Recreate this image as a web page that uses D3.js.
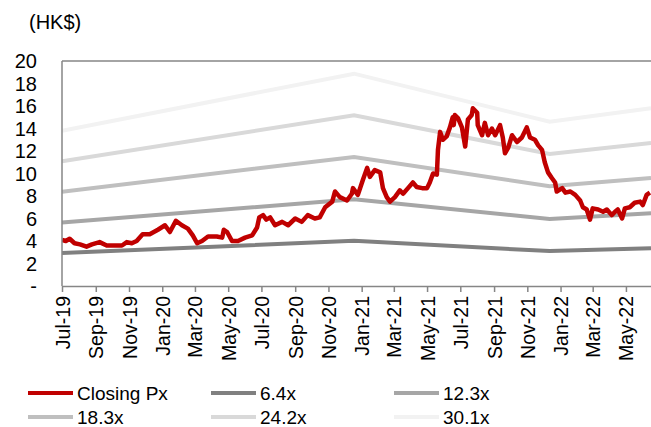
<!DOCTYPE html>
<html>
<head>
<meta charset="utf-8">
<script src="https://cdn.jsdelivr.net/npm/d3@7"></script>
<style>
  body { margin: 0; background: #fff; }
  svg { display: block; font-family: "Liberation Sans", Arial, sans-serif; }
</style>
</head>
<body>
<svg id="chart" width="651" height="427"></svg>
<script>
// Données

const priceDates = [
  "2019-07-01", "2019-07-08", "2019-07-15", "2019-07-24", "2019-08-03", "2019-08-15", "2019-08-25",
  "2019-09-08", "2019-09-21", "2019-10-02", "2019-10-19", "2019-10-28", "2019-11-06", "2019-11-15",
  "2019-11-26", "2019-12-09", "2019-12-24", "2020-01-06", "2020-01-15", "2020-01-26", "2020-02-06",
  "2020-02-17", "2020-02-26", "2020-03-05", "2020-03-14", "2020-03-25", "2020-04-10", "2020-04-20",
  "2020-04-23", "2020-04-29", "2020-05-08", "2020-05-19", "2020-06-01", "2020-06-14", "2020-06-23",
  "2020-06-27", "2020-07-04", "2020-07-10", "2020-07-17", "2020-07-26", "2020-08-08", "2020-08-19",
  "2020-09-01", "2020-09-13", "2020-09-24", "2020-10-07", "2020-10-16", "2020-10-26", "2020-11-08",
  "2020-11-13", "2020-11-22", "2020-12-05", "2020-12-14", "2020-12-16", "2020-12-25", "2021-01-03",
  "2021-01-11", "2021-01-16", "2021-01-25", "2021-02-04", "2021-02-09", "2021-02-16", "2021-02-22",
  "2021-03-03", "2021-03-12", "2021-03-18", "2021-03-27", "2021-04-05", "2021-04-12", "2021-04-22",
  "2021-05-01", "2021-05-06", "2021-05-12", "2021-05-19", "2021-05-21", "2021-05-25", "2021-05-30",
  "2021-06-06", "2021-06-12", "2021-06-17", "2021-06-19", "2021-06-21", "2021-06-27", "2021-07-04",
  "2021-07-10", "2021-07-15", "2021-07-22", "2021-07-24", "2021-08-01", "2021-08-02", "2021-08-10",
  "2021-08-15", "2021-08-21", "2021-08-28", "2021-09-03", "2021-09-12", "2021-09-17", "2021-09-21",
  "2021-09-27", "2021-10-04", "2021-10-13", "2021-10-22", "2021-10-31", "2021-11-06", "2021-11-15",
  "2021-11-21", "2021-11-28", "2021-12-03", "2021-12-09", "2021-12-16", "2021-12-22", "2021-12-25",
  "2022-01-04", "2022-01-10", "2022-01-19", "2022-01-28", "2022-02-06", "2022-02-11", "2022-02-18",
  "2022-02-24", "2022-03-01", "2022-03-11", "2022-03-20", "2022-03-27", "2022-04-05", "2022-04-11",
  "2022-04-16", "2022-04-24", "2022-04-29", "2022-05-08", "2022-05-17", "2022-05-27", "2022-06-01",
  "2022-06-08", "2022-06-14"
];
const priceClose = [
  4.1, 4.0, 4.2, 3.8, 3.7, 3.5, 3.7,
  3.9, 3.6, 3.6, 3.6, 3.9, 3.8, 4.0,
  4.6, 4.6, 5.0, 5.4, 4.8, 5.8, 5.4,
  5.1, 4.5, 3.8, 4.0, 4.4, 4.4, 4.3,
  5.0, 4.8, 4.0, 4.0, 4.3, 4.5, 5.2,
  6.1, 6.3, 5.9, 6.1, 5.4, 5.7, 5.4,
  6.0, 5.7, 6.3, 6.0, 6.1, 7.0, 7.5,
  8.4, 7.9, 7.6, 8.2, 8.7, 8.1, 9.4,
  10.5, 9.7, 10.3, 10.1, 8.7, 7.9, 7.5,
  7.9, 8.5, 8.2, 8.7, 9.2, 8.8, 8.7,
  8.7, 9.2, 10.0, 9.9, 12.1, 13.7, 13.0,
  13.3, 14.1, 15.0, 14.3, 15.2, 14.9, 14.1,
  12.4, 14.8, 15.2, 15.8, 15.4, 14.3, 13.4,
  14.5, 13.4, 14.0, 13.4, 14.3, 13.2, 11.8,
  12.3, 13.4, 12.8, 13.2, 14.1, 13.2, 13.0,
  12.5, 12.1, 11.0, 10.1, 9.6, 9.2, 8.4,
  8.7, 8.3, 8.4, 8.1, 7.6, 7.0, 6.8,
  5.9, 6.9, 6.8, 6.6, 6.8, 6.3, 6.6,
  6.8, 6.0, 6.9, 7.0, 7.4, 7.5, 7.2,
  8.1, 8.3
];

// BPA (HK$) aux points de rupture des bandes PE
const epsDates = ["2019-07-01", "2020-12-18", "2021-12-12", "2022-06-16"];
const epsValues = [0.458, 0.627, 0.485, 0.525];

const peMultiples = [6.4, 12.3, 18.3, 24.2, 30.1];
const bandColors = ["#808080", "#a6a6a6", "#bfbfbf", "#d9d9d9", "#f2f2f2"];

const yTicks = [0, 2, 4, 6, 8, 10, 12, 14, 16, 18, 20];

// Mise en page

const svg = d3.select("#chart");
const plotLeft = 62, plotRight = 651, plotTop = 61, plotBottom = 286;
const parse = d3.timeParse("%Y-%m-%d");

const x = d3.scaleTime()
  .domain([parse("2019-07-01"), parse("2022-06-16")])
  .range([plotLeft, plotRight]);
const y = d3.scaleLinear().domain([0, 20]).range([plotBottom, plotTop]);

svg.append("defs").append("clipPath").attr("id", "plot")
  .append("rect").attr("x", plotLeft).attr("y", plotTop - 10)
  .attr("width", plotRight - plotLeft).attr("height", plotBottom - plotTop + 10);

// Bandes PE
const bands = peMultiples.map((m, i) => ({
  name: m + "x",
  color: bandColors[i],
  values: epsDates.map((d, j) => ({ date: parse(d), v: epsValues[j] * m }))
}));

const line = d3.line().x(d => x(d.date)).y(d => y(d.v));

const g = svg.append("g").attr("clip-path", "url(#plot)");

g.selectAll("path.band")
  .data(bands)
  .enter()
  .append("path")
  .attr("class", "band")
  .attr("d", d => line(d.values))
  .attr("fill", "none")
  .attr("stroke", d => d.color)
  .attr("stroke-width", 4);

const price = priceDates.map((d, i) => ({ date: parse(d), v: priceClose[i] }));
g.append("path")
  .attr("d", line(price))
  .attr("fill", "none")
  .attr("stroke", "#c00000")
  .attr("stroke-width", 4.5)
  .attr("stroke-linejoin", "round");

// Axes
const axisColor = "#868686";
svg.append("line").attr("x1", plotLeft).attr("x2", plotRight).attr("y1", plotTop).attr("y2", plotTop)
  .attr("stroke", axisColor).attr("stroke-width", 1.5);
svg.append("line").attr("x1", plotLeft).attr("x2", plotLeft).attr("y1", plotTop).attr("y2", plotBottom)
  .attr("stroke", axisColor).attr("stroke-width", 1.5);

const xAxis = svg.append("g")
  .attr("transform", "translate(0," + plotBottom + ")")
  .call(d3.axisBottom(x)
    .ticks(d3.timeMonth.every(2))
    .tickFormat(d3.timeFormat("%b-%y"))
    .tickSize(6)
    .tickSizeOuter(0));
xAxis.select(".domain").attr("stroke", axisColor).attr("stroke-width", 1.5);
xAxis.selectAll(".tick line").attr("stroke", axisColor).attr("stroke-width", 1.5);
xAxis.selectAll(".tick text")
  .attr("font-size", 19.5)
  .attr("font-family", "Liberation Sans, Arial, sans-serif")
  .attr("fill", "#000")
  .attr("text-anchor", "end")
  .attr("transform", "rotate(-90)")
  .attr("x", -10)
  .attr("y", 0)
  .attr("dy", "0.36em");

svg.append("g")
  .selectAll("text")
  .data(yTicks)
  .enter()
  .append("text")
  .attr("x", 37)
  .attr("y", d => y(d))
  .attr("dy", "0.36em")
  .attr("text-anchor", "end")
  .attr("font-size", 20)
  .text(d => d === 0 ? "-" : d);

svg.append("text")
  .attr("x", 29)
  .attr("y", 29)
  .attr("font-size", 20)
  .text("(HK$)");

// Légende
const legendItems = [{ name: "Closing Px", color: "#c00000" }].concat(bands);
const legend = svg.append("g")
  .selectAll("g")
  .data(legendItems)
  .enter()
  .append("g")
  .attr("transform", (d, i) => "translate(" + (28 + (i % 3) * 183) + "," + (393 + Math.floor(i / 3) * 24) + ")");
legend.append("line")
  .attr("x1", 0).attr("x2", 45)
  .attr("stroke", d => d.color)
  .attr("stroke-width", 4);
legend.append("text")
  .attr("x", 49)
  .attr("dy", "0.36em")
  .attr("font-size", 19)
  .text(d => d.name);
</script>
</body>
</html>
